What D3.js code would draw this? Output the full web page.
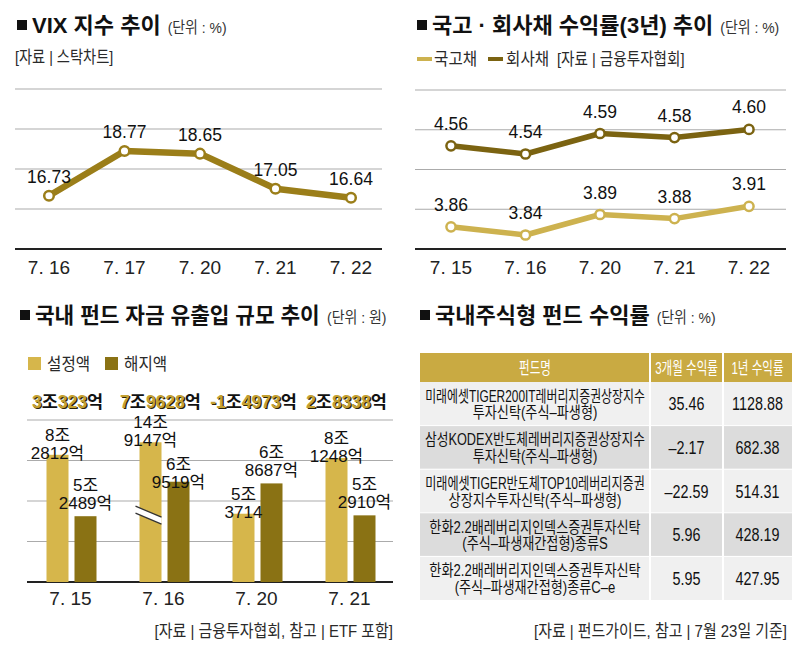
<!DOCTYPE html>
<html><head><meta charset="utf-8">
<script src="https://cdn.jsdelivr.net/npm/d3@7"></script>
<style>
body{margin:0;background:#fff;}
svg{display:block;font-family:"Liberation Sans","Noto Sans CJK KR",sans-serif;}
</style></head><body>
<svg id="c" width="800" height="658"></svg>
<script>
// ---------- DATA ----------
const vixDates = ["7. 16","7. 17","7. 20","7. 21","7. 22"];
const vixValues = [16.73, 18.77, 18.65, 17.05, 16.64];

const bondDates = ["7. 15","7. 16","7. 20","7. 21","7. 22"];
const govBond = [3.86, 3.84, 3.89, 3.88, 3.91];
const corpBond = [4.56, 4.54, 4.59, 4.58, 4.60];

const flowDates = ["7. 15","7. 16","7. 20","7. 21"];
const subscriptions = [8.2812, 14.9147, 5.3714, 8.1248]; // 조원
const redemptions = [5.2489, 6.9519, 6.8687, 5.2910];
const subscriptionLabels = [["8조","2812억"],["14조","9147억"],["5조","3714"],["8조","1248억"]];
const redemptionLabels = [["5조","2489억"],["6조","9519억"],["6조","8687억"],["5조","2910억"]];

const tableHeader = ["펀드명","3개월 수익률","1년 수익률"];
const fundNames = [
  ["미래에셋TIGER200IT레버리지증권상장지수","투자신탁(주식–파생형)"],
  ["삼성KODEX반도체레버리지증권상장지수","투자신탁(주식–파생형)"],
  ["미래에셋TIGER반도체TOP10레버리지증권","상장지수투자신탁(주식–파생형)"],
  ["한화2.2배레버리지인덱스증권투자신탁","(주식–파생재간접형)종류S"],
  ["한화2.2배레버리지인덱스증권투자신탁","(주식–파생재간접형)종류C–e"]
];
const return3m = [35.46, -2.17, -22.59, 5.96, 5.95];
const return1y = [1128.88, 682.38, 514.31, 428.19, 427.95];

// ---------- STYLE ----------
const C = {
  vix: "#9b7e19", corp: "#7b6311", gov: "#cdb24f",
  barA: "#d6b64b", barB: "#8a7214", grid: "#ababab",
  header: "#c9aa42", rowA: "#f0f0f0", rowB: "#dcdcdc", text: "#111", sub: "#2a2a2a"
};
const svg = d3.select("#c");

// text squeezed horizontally (mimics the condensed newspaper face)
function ctext(parent, x, y, s, opt) {
  const o = Object.assign({size: 17, fill: C.sub, anchor: "start", factor: 0.88, maxW: null, weight: "normal"}, opt || {});
  const t = parent.append("text").attr("x", 0).attr("y", 0)
    .attr("font-size", o.size).attr("font-weight", o.weight).attr("fill", o.fill)
    .attr("text-anchor", o.anchor).text(s);
  const w = t.node().getComputedTextLength();
  let f = o.factor;
  if (o.maxW && w * f > o.maxW) f = o.maxW / w;
  t.attr("transform", `translate(${x},${y}) scale(${f.toFixed(4)},1)`);
  return {node: t, width: w * f};
}
function title(x, y, text, w, unit) {
  svg.append("rect").attr("x", x).attr("y", y - 13).attr("width", 10).attr("height", 10).attr("fill", "#111");
  const t = ctext(svg, x + 15, y, text, {size: 22, weight: "bold", fill: "#111", factor: 1, maxW: w});
  ctext(svg, x + 15 + t.width + 7, y, unit, {size: 15.5, fill: "#333", factor: 0.9});
}
function grid(x0, x1, yTop, yBase) {
  const g = d3.scaleLinear().domain([0, 4]).range([yBase, yTop]);
  svg.append("g").selectAll("line").data([1,2,3,4]).join("line")
    .attr("x1", x0).attr("x2", x1).attr("y1", d => g(d)).attr("y2", d => g(d))
    .attr("stroke", C.grid).attr("stroke-width", 1);
  svg.append("line").attr("x1", x0).attr("x2", x1).attr("y1", yBase).attr("y2", yBase)
    .attr("stroke", "#222").attr("stroke-width", 2);
}

// ---------- PANEL 1: VIX ----------
title(17, 33, "VIX 지수 추이", 133, "(단위 : %)");
ctext(svg, 15, 63, "[자료 | 스탁차트]", {factor: 0.84});
grid(15, 382, 89, 249);
const xV = d3.scalePoint().domain(vixDates).range([49, 351]);
const yV = d3.scaleLinear().domain([14.3, 21.6]).range([249, 89]);
const vixData = vixDates.map((d, i) => ({d, v: vixValues[i]}));
svg.append("path").datum(vixData)
  .attr("d", d3.line().x(p => xV(p.d)).y(p => yV(p.v)))
  .attr("fill", "none").attr("stroke", C.vix).attr("stroke-width", 6.5).attr("stroke-linejoin", "round");
svg.append("g").selectAll("circle").data(vixData).join("circle")
  .attr("cx", p => xV(p.d)).attr("cy", p => yV(p.v)).attr("r", 4.8)
  .attr("fill", "#fff").attr("stroke", C.vix).attr("stroke-width", 2.5);
svg.append("g").selectAll("text").data(vixData).join("text")
  .attr("x", p => xV(p.d)).attr("y", p => yV(p.v) - 13).attr("text-anchor", "middle")
  .attr("font-size", 17.5).attr("fill", C.text).text(p => p.v.toFixed(2));
svg.append("g").selectAll("text").data(vixDates).join("text")
  .attr("x", d => xV(d)).attr("y", 274).attr("text-anchor", "middle")
  .attr("font-size", 19).attr("fill", "#222").text(d => d);

// ---------- PANEL 2: BONDS ----------
title(417, 33, "국고 · 회사채 수익률(3년) 추이", 282, "(단위 : %)");
svg.append("line").attr("x1", 417).attr("x2", 432).attr("y1", 59).attr("y2", 59).attr("stroke", C.gov).attr("stroke-width", 4);
ctext(svg, 434, 65, "국고채", {factor: 0.92});
svg.append("line").attr("x1", 488).attr("x2", 503).attr("y1", 59).attr("y2", 59).attr("stroke", C.corp).attr("stroke-width", 4);
ctext(svg, 506, 65, "회사채", {factor: 0.92});
ctext(svg, 557, 65, "[자료 | 금융투자협회]", {factor: 0.86});
grid(415, 786, 90, 249);
const xB = d3.scalePoint().domain(bondDates).range([451, 749]);
// broken (polylinear) scale: the gap between the two yield bands is cut out
const yB = d3.scaleLinear().domain([3.80, 3.95, 4.50, 4.65]).range([251.4, 189.9, 170.4, 108.9]);
[[govBond, C.gov], [corpBond, C.corp]].forEach(([vals, col]) => {
  const data = bondDates.map((d, i) => ({d, v: vals[i]}));
  svg.append("path").datum(data)
    .attr("d", d3.line().x(p => xB(p.d)).y(p => yB(p.v)))
    .attr("fill", "none").attr("stroke", col).attr("stroke-width", 5.5).attr("stroke-linejoin", "round");
  svg.append("g").selectAll("circle").data(data).join("circle")
    .attr("cx", p => xB(p.d)).attr("cy", p => yB(p.v)).attr("r", 4.6)
    .attr("fill", "#fff").attr("stroke", col).attr("stroke-width", 2.5);
  svg.append("g").selectAll("text").data(data).join("text")
    .attr("x", p => xB(p.d)).attr("y", p => yB(p.v) - 16).attr("text-anchor", "middle")
    .attr("font-size", 17.5).attr("fill", C.text).text(p => p.v.toFixed(2));
});
svg.append("g").selectAll("text").data(bondDates).join("text")
  .attr("x", d => xB(d)).attr("y", 274).attr("text-anchor", "middle")
  .attr("font-size", 19).attr("fill", "#222").text(d => d);

// ---------- PANEL 3: FUND FLOWS ----------
title(20, 323, "국내 펀드 자금 유출입 규모 추이", 285, "(단위 : 원)");
svg.append("rect").attr("x", 28).attr("y", 357).attr("width", 13).attr("height", 13).attr("fill", C.barA);
ctext(svg, 47, 370, "설정액", {factor: 0.92});
svg.append("rect").attr("x", 105).attr("y", 357).attr("width", 13).attr("height", 13).attr("fill", C.barB);
ctext(svg, 124, 370, "해지액", {factor: 0.92});
grid(27, 393, 420, 582);
const xF = d3.scaleBand().domain(flowDates).range([24, 396]);
const xSub = d3.scaleBand().domain(["s","r"]).range([-24, 26]).paddingInner(0.214);
const yF = d3.scaleLinear().domain([2, 10]).range([582, 420]);
const breakCap = 8.9;     // visual cut-off for the off-scale bar
const breakAt = 5.3;      // where the break mark sits
const bars = [];
flowDates.forEach((d, i) => {
  bars.push({d, k: "s", v: subscriptions[i], lab: subscriptionLabels[i], col: C.barA});
  bars.push({d, k: "r", v: redemptions[i], lab: redemptionLabels[i], col: C.barB});
});
const shown = b => (b.v > yF.domain()[1] ? breakCap : b.v);
const bx = b => xF(b.d) + xF.bandwidth() / 2 + xSub(b.k);
svg.append("g").selectAll("rect").data(bars).join("rect")
  .attr("x", bx).attr("width", xSub.bandwidth())
  .attr("y", b => yF(shown(b))).attr("height", b => yF(2) - yF(shown(b))).attr("fill", b => b.col);
// break mark
bars.filter(b => b.v > yF.domain()[1]).forEach(b => {
  const x0 = bx(b) - 4, x1 = bx(b) + xSub.bandwidth(), yc = yF(breakAt);
  const g = svg.append("g");
  g.append("path").attr("d", `M${x0},${yc - 9}L${x1},${yc + 2}L${x1},${yc + 9}L${x0},${yc - 2}Z`).attr("fill", "#fff");
  g.append("line").attr("x1", x0).attr("y1", yc - 9).attr("x2", x1).attr("y2", yc + 2).attr("stroke", "#333").attr("stroke-width", 1.3);
  g.append("line").attr("x1", x0).attr("y1", yc - 2).attr("x2", x1).attr("y2", yc + 9).attr("stroke", "#333").attr("stroke-width", 1.3);
});
// value labels: 설정액 label sits on the bar top; 해지액 label sits above its bar
// unless that collides with the neighbouring 설정액 label, then it drops onto the bar
const lblG = svg.append("g").attr("font-size", 17).attr("fill", "#111").attr("text-anchor", "middle");
const lineGap = 18;
flowDates.forEach(d => {
  const s = bars.find(b => b.d === d && b.k === "s"), r = bars.find(b => b.d === d && b.k === "r");
  const ys = yF(shown(s)) + 4;
  let yr = yF(shown(r)) - 7;
  const rTop = yr - lineGap - 13, sTop = ys - lineGap - 13;
  if (yr > sTop && rTop < ys) yr = yF(shown(r)) + 6;
  [[s, ys], [r, yr]].forEach(([b, yb]) => {
    const cx = bx(b) + xSub.bandwidth() / 2;
    lblG.append("text").attr("x", cx).attr("y", yb - lineGap).text(b.lab[0]);
    lblG.append("text").attr("x", cx).attr("y", yb).text(b.lab[1]);
  });
});
// net flow labels (computed from the two series)
function fmtNet(v) {
  const a = Math.abs(v), jo = Math.floor(a + 1e-9), eok = Math.round((a - jo) * 10000);
  return (v < 0 ? "-" : "") + jo + "조" + eok + "억";
}
flowDates.forEach((d, i) => {
  const s = fmtNet(subscriptions[i] - redemptions[i]);
  const parts = s.match(/[-0-9]+|[^-0-9]+/g);
  const cx = xF(d) + xF.bandwidth() / 2 - 3;
  [[1.2, true], [0, false]].forEach(([off, isShadow]) => {
    const t = svg.append("text").attr("x", cx + off).attr("y", 408 + off).attr("text-anchor", "middle")
      .attr("font-size", 17.5).attr("font-weight", "bold");
    parts.forEach(p => {
      const num = /[-0-9]/.test(p);
      t.append("tspan").text(p)
        .attr("fill", isShadow ? (num ? "#2a2208" : "none") : (num ? "#c3a032" : "#111"));
    });
  });
});
svg.append("g").selectAll("text").data(flowDates).join("text")
  .attr("x", d => xF(d) + xF.bandwidth() / 2).attr("y", 605).attr("text-anchor", "middle")
  .attr("font-size", 19).attr("fill", "#222").text(d => d);
ctext(svg, 393, 637, "[자료 | 금융투자협회, 참고 | ETF 포함]", {factor: 0.88, anchor: "end"});

// ---------- PANEL 4: TABLE ----------
title(420, 323, "국내주식형 펀드 수익률", 224, "(단위 : %)");
const colX = [420, 650, 723, 792];
const headTop = 353, headBot = 382;
svg.append("rect").attr("x", colX[0]).attr("y", headTop).attr("width", colX[3] - colX[0]).attr("height", headBot - headTop).attr("fill", C.header);
const rowsY = d3.scaleBand().domain(d3.range(fundNames.length)).range([headBot, 600]);
svg.append("g").selectAll("rect").data(fundNames).join("rect")
  .attr("x", colX[0]).attr("width", colX[3] - colX[0])
  .attr("y", (d, i) => rowsY(i)).attr("height", rowsY.bandwidth())
  .attr("fill", (d, i) => i % 2 ? C.rowB : C.rowA);
[colX[1], colX[2]].forEach(x => svg.append("line").attr("x1", x).attr("x2", x).attr("y1", headTop).attr("y2", 600).attr("stroke", "#fff").attr("stroke-width", 2));
d3.range(1, fundNames.length).forEach(i => svg.append("line").attr("x1", colX[0]).attr("x2", colX[3])
  .attr("y1", rowsY(i)).attr("y2", rowsY(i)).attr("stroke", "#fff").attr("stroke-width", 1));
const colC = [0,1,2].map(i => (colX[i] + colX[i + 1]) / 2);
tableHeader.forEach((h, i) => {
  ctext(svg, colC[i], 374, h, {size: 16.5, fill: "#fff", anchor: "middle", factor: 0.7, maxW: colX[i + 1] - colX[i] - 6});
});
const fmtR = v => (v < 0 ? "–" : "") + Math.abs(v).toFixed(2);
fundNames.forEach((lines, i) => {
  const cy = rowsY(i) + rowsY.bandwidth() / 2;
  lines.forEach((ln, j) => {
    ctext(svg, colC[0], cy - 2 + j * 16.5, ln, {size: 16, fill: "#111", anchor: "middle", factor: 0.82, maxW: 220});
  });
  [[return3m, 1], [return1y, 2]].forEach(([arr, c]) => {
    ctext(svg, colC[c], cy + 6.5, fmtR(arr[i]), {size: 17.5, fill: "#111", anchor: "middle", factor: 0.82});
  });
});
ctext(svg, 787, 637, "[자료 | 펀드가이드, 참고 | 7월 23일 기준]", {factor: 0.88, anchor: "end"});
</script>
</body></html>
